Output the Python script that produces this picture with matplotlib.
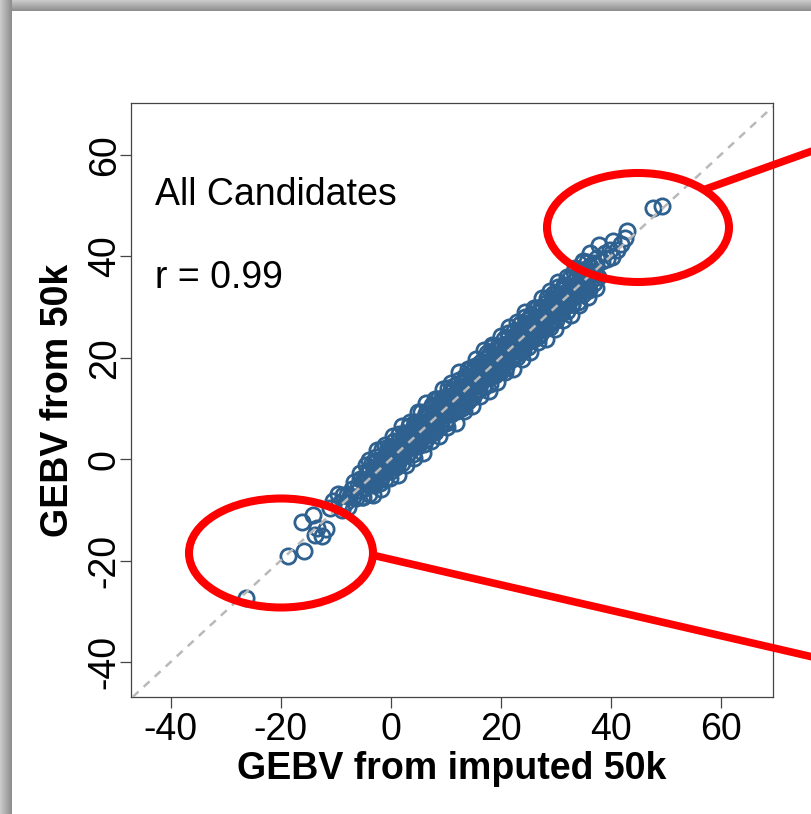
import matplotlib
matplotlib.use('Agg')
import matplotlib.pyplot as plt
import numpy as np
from matplotlib.patches import Ellipse

plt.rcParams['font.family'] = ['Liberation Sans', 'DejaVu Sans']
plt.rcParams['axes.unicode_minus'] = False

# ---------------- data ----------------
low_x = [-26.3, -18.6, -16.2, -15.7, -14.2, -13.7, -13.4, -12.4, -11.8, -11.0, -10.4, -9.6]
low_y = [-27.3, -19.2, -12.4, -18.2, -11.0, -15.0, -13.5, -15.2, -13.8, -9.6, -8.3, -6.8]

segA_x = [-9.3, -8.9, -8.6, -8.2, -7.9, -7.7, -7.4, -7.1, -6.8, -6.6, -6.3, -6.0, -5.8, -5.5,
          -5.2, -5.0, -4.7, -4.4, -4.2, -3.9, -3.6, -3.3]
segA_y = [-8.9, -10.0, -7.0, -8.5, -7.0, -9.5, -7.3, -5.9, -7.5, -4.5, -7.7, -5.4, -6.0, -4.0,
          -7.5, -4.2, -5.6, -4.1, -2.3, -5.1, -3.6, -3.8]

segB_x = [-3.1, -2.9, -2.8, -2.6, -2.4, -2.2, -2.1, -1.9, -1.7, -1.5, -1.4, -1.2, -1.0, -0.8,
          -0.7, -0.5, -0.3, -0.1, 0.0, 0.2, 0.4, 0.5, 0.7, 0.9, 1.0, 1.2, 1.4, 1.5, 1.7, 1.9,
          2.0, 2.2, 2.4, 2.5, 2.7, 2.9, 3.0, 3.2, 3.4, 3.5, 3.7, 3.9, 4.0, 4.2, 4.4, 4.5, 4.7, 4.9]
segB_y = [-2.0, -4.5, -0.4, -2.1, -3.2, -0.9, -4.1, -1.7, -1.3, -2.6, 0.2, -1.5, -0.1, -2.6,
          -0.6, 0.7, -1.0, 2.0, -1.4, 0.8, 0.2, 2.0, -1.6, 1.7, 0.1, 1.5, 3.3, 0.3, 1.7, 1.4,
          3.1, 0.6, 4.8, 3.0, 1.9, 4.2, 1.0, 3.4, 3.8, 2.4, 5.3, 3.6, 4.9, 2.4, 4.5, 5.7, 4.0, 7.0]

segC_x = [5.1, 5.3, 5.4, 5.6, 5.7, 5.9, 6.0, 6.2, 6.3, 6.5, 6.6, 6.8, 6.9, 7.1, 7.2, 7.4, 7.5,
          7.7, 7.8, 8.0, 8.1, 8.3, 8.4, 8.6, 8.7, 8.9, 9.0, 9.2, 9.3, 9.5, 9.6, 9.8, 9.9, 10.1,
          10.2, 10.4, 10.5, 10.7, 10.8, 11.0, 11.1, 11.3, 11.4, 11.6, 11.7, 11.9, 12.0, 12.2,
          12.3, 12.5, 12.6, 12.8, 12.9, 13.1, 13.2, 13.4, 13.5, 13.7, 13.8, 14.0, 14.1, 14.3,
          14.4, 14.6, 14.7, 14.9, 15.0, 15.2, 15.3, 15.5, 15.6, 15.8, 15.9, 16.1, 16.2, 16.4,
          16.5, 16.7, 16.8, 17.0, 17.1, 17.3, 17.4, 17.6, 17.7, 17.9, 18.0, 18.2, 18.3, 18.5,
          18.6, 18.8, 18.9, 19.1, 19.2, 19.4, 19.5, 19.7, 19.8, 20.0, 20.1, 20.3, 20.4, 20.6,
          20.7, 20.9, 21.0, 21.2, 21.3, 21.5, 21.6, 21.8, 21.9, 22.1, 22.2, 22.4, 22.5, 22.7,
          22.8, 23.0, 23.1, 23.3, 23.4, 23.6, 23.7, 23.9, 24.0, 24.2, 24.3, 24.5, 24.6, 24.8,
          24.9, 25.1, 25.2, 25.4, 25.5, 25.7, 25.8, 26.0, 26.1, 26.3, 26.4, 26.6, 26.7, 26.9,
          27.0, 27.2, 27.3, 27.5, 27.6, 27.8, 27.9, 28.1, 28.2, 28.4, 28.5, 28.7, 28.8, 29.0,
          29.1, 29.3, 29.4, 29.6, 29.7, 29.9]
segC_y = [4.5, 6.7, 3.5, 5.9, 6.6, 4.6, 8.2, 6.1, 7.0, 4.0, 7.6, 6.4, 8.7, 6.1, 7.4, 5.9, 10.1,
          6.9, 8.3, 9.2, 6.0, 8.4, 8.1,
          8.0, 10.1, 7.0, 9.3, 10.1, 8.0, 11.7, 9.5, 10.5, 7.4, 11.1, 9.8, 12.2, 9.5, 10.9, 9.3,
          13.6, 10.3, 11.8, 12.6, 9.5, 11.8, 11.6,
          11.4, 13.6, 10.4, 12.8, 13.5, 11.5, 15.1, 13.0, 13.9, 10.9, 14.5, 13.3, 15.6, 13.0,
          14.3, 12.8, 17.0, 13.8, 15.2, 16.1, 12.9, 15.3, 15.0,
          14.9, 17.0, 13.9, 16.2, 17.0, 14.9, 18.6, 16.4, 17.4, 14.3, 18.0, 16.7, 19.1, 16.4,
          17.8, 16.2, 20.5, 17.2, 18.7, 19.5, 16.4, 18.7, 18.5,
          18.3, 20.5, 17.3, 19.7, 20.4, 18.4, 22.0, 19.9, 20.8, 17.8, 21.4, 20.2, 22.5, 19.9,
          21.2, 19.7, 23.9, 20.7, 22.1, 23.0, 19.8, 22.2, 21.9,
          21.8, 23.9, 20.8, 23.1, 23.9, 21.8, 25.5, 23.3, 24.3, 21.2, 24.9, 23.6, 26.0, 23.3,
          24.7, 23.1, 27.4, 24.1, 25.6, 26.4, 23.3, 25.6, 25.4,
          25.2, 27.4, 24.2, 26.6, 27.3, 25.3, 28.9, 26.8, 27.7, 24.7, 28.3, 27.1, 29.4, 26.8,
          28.1, 26.6, 30.8, 27.6, 29.0, 29.9, 26.7, 29.1, 28.8,
          28.7, 30.8, 27.7, 30.0, 30.8]

segD_x = [30.1, 30.3, 30.5, 30.7, 30.9, 31.1, 31.3, 31.5, 31.7, 31.9, 32.1, 32.3, 32.5, 32.7,
          32.9, 33.1, 33.3, 33.5, 33.7, 33.9, 34.1, 34.3, 34.5, 34.7, 34.9, 35.1, 35.3, 35.5,
          35.7, 35.9, 36.2, 36.5, 36.8, 37.1, 37.4, 37.7]
segD_y = [30.5, 29.2, 32.1, 30.4, 31.8, 29.3, 31.4, 32.7, 31.0, 34.0, 30.7, 32.9, 32.3, 34.2,
          30.6, 33.9, 32.4, 33.8, 35.6, 32.7, 34.1, 33.8, 35.6, 33.1, 37.3, 35.6, 34.5, 36.8,
          33.7, 36.1, 36.6, 35.4, 38.4, 36.8, 38.3, 35.9]

mid_x = [-3.8, -3.4, -3.0, -2.6, -2.2, -1.8, -1.4, -1.0, -0.6, -0.2, 0.2, 0.6, 1.0, 1.4, 1.8,
         2.2, 2.6, 3.0, 3.4, 3.8, 4.2, 4.6, 5.0, 5.4, 5.8, 6.2, 6.6, 7.0, 7.4, 7.8, 8.2, 8.6,
         9.0, 9.4, 9.8, 10.2, 10.6, 11.0, 11.4, 11.8, 12.2, 12.6, 13.0, 13.4, 13.8, 14.2, 14.6,
         15.0, 15.4, 15.8, 16.2, 16.6, 17.0, 17.4, 17.8, 18.2, 18.6, 19.0, 19.4, 19.8, 20.2,
         20.6, 21.0, 21.4, 21.8, 22.2, 22.6, 23.0, 23.4, 23.8, 24.2, 24.6, 25.0, 25.4, 25.8,
         26.2, 26.6, 27.0, 27.4, 27.8, 28.2, 28.6, 29.0, 29.4, 29.8, 30.2, 30.6, 31.0, 31.4,
         31.8, 32.2, 32.6, 33.0, 33.4, 33.8, 34.2, 34.6, 35.0, 35.4, 35.8, 36.2, 36.6, 37.0]
mid_y = [-2.1, -4.6, -2.6, -0.3, -2.8, -3.7, -0.4, -1.0, -2.1, 1.8, 0.9, -0.3, 2.4, -0.7, 2.1,
         4.1, 2.2, 4.7, 2.2, 4.2, 6.5, 4.0, 3.1, 6.4, 5.8, 4.7, 8.6, 7.7, 6.5, 9.2, 6.1, 8.9,
         10.9, 9.0, 11.5, 9.0, 11.0, 13.3, 10.8, 9.9, 13.2, 12.6, 11.5, 15.4, 14.5, 13.3, 16.0,
         12.9, 15.7, 17.7, 15.8, 18.3, 15.8, 17.8, 20.1, 17.6, 16.7, 20.0, 19.4, 18.3, 22.2,
         21.3, 20.1, 22.8, 19.7, 22.5, 24.5, 22.6, 25.1, 22.6, 24.6, 26.9, 24.4, 23.5, 26.8,
         26.2, 25.1, 29.0, 28.1, 26.9, 29.6, 26.5, 29.3, 31.3, 29.4, 31.9, 29.4, 31.4, 33.7,
         31.2, 30.3, 33.6, 33.0, 31.9, 35.8, 34.9, 33.7, 36.4, 33.3, 36.1, 38.1, 36.2, 38.7]

edge_hi_x = [-5.6, -4.5, -3.4, -2.6, -1.5, -0.4, 0.6, 1.5, 2.6, 3.4, 4.5, 5.6, 6.4, 7.5, 8.6,
             9.4, 10.5, 11.6, 12.4, 13.5, 14.6, 15.4, 16.5, 17.6, 18.4, 19.5, 20.6, 21.4, 22.5,
             23.6, 24.4, 25.5, 26.6, 27.4, 28.5, 29.6, 30.4, 31.5, 32.6, 33.4, 34.5, 35.6]
edge_hi_y = [-2.8, -1.2, -0.8, 0.5, 2.0, 2.3, 3.6, 4.9, 5.1, 6.6, 7.4, 9.2, 9.1, 10.6, 11.9,
             12.0, 14.0, 14.5, 15.6, 16.3, 18.0, 18.4, 19.1, 20.9, 22.1, 22.3, 23.7, 24.8, 25.2,
             26.6, 28.0, 28.4, 29.8, 30.0, 31.8, 32.6, 33.9, 34.3, 35.7, 36.8, 37.2, 38.8]

edge_lo_x = [-5.0, -4.0, -3.0, -2.0, -1.0, 0.0, 1.0, 2.0, 3.0, 4.0, 5.0, 6.0, 7.0, 8.0, 9.0,
             10.0, 11.0, 12.0, 13.0, 14.0, 15.0, 16.0, 17.0, 18.0, 19.0, 20.0, 21.0, 22.0, 23.0,
             24.0, 25.0, 26.0, 27.0, 28.0, 29.0, 30.0, 31.0, 32.0, 33.0, 34.0, 35.0, 36.0, 37.0]
edge_lo_y = [-7.4, -6.9, -5.2, -4.7, -4.0, -2.3, -1.6, -0.8, 0.9, 1.1, 2.5, 2.9, 4.7, 5.3, 6.6,
             7.1, 8.8, 9.4, 10.0, 11.5, 12.2, 13.7, 14.3, 14.9, 16.6, 17.4, 18.1, 19.8, 20.2,
             21.5, 22.0, 23.6, 24.3, 25.7, 26.1, 27.4, 28.8, 29.2, 30.5, 31.0, 32.6, 33.3, 34.7]

outer_hi_x = [-4.0, -2.5, -1.0, 0.5, 2.0, 3.5, 5.0, 6.5, 8.0, 9.5, 11.0, 12.5, 14.0, 15.5,
              17.0, 18.5, 20.0, 21.5, 23.0, 24.5, 26.0, 27.5, 29.0, 30.5, 32.0, 33.5, 35.0]
outer_hi_y = [-0.1, 1.8, 2.7, 4.6, 6.5, 7.3, 9.2, 11.1, 11.9, 13.9, 15.0, 17.2, 17.8, 19.8,
              21.5, 22.4, 24.2, 26.1, 27.0, 28.9, 29.8, 31.8, 33.1, 35.0, 35.9, 37.7, 38.8]

outer_lo_x = [-3.2, -1.7, -0.2, 1.3, 2.8, 4.3, 5.8, 7.3, 8.8, 10.3, 11.8, 13.3, 14.8, 16.3,
              17.8, 19.3, 20.8, 22.3, 23.8, 25.3, 26.8, 28.3, 29.8, 31.3, 32.8, 34.3, 35.8, 37.3]
outer_lo_y = [-7.0, -5.9, -3.8, -3.1, -1.1, 0.2, 1.3, 3.6, 4.6, 6.3, 7.2, 9.5, 10.5, 12.4,
              13.4, 15.2, 17.1, 17.8, 19.8, 21.1, 23.0, 23.7, 25.7, 27.4, 28.5, 30.3, 32.0, 33.7]

high_x = [35.0, 36.3, 37.5, 37.8, 38.5, 38.9, 39.3, 39.8, 40.2, 40.4, 41.1, 41.8, 42.6, 42.9, 47.6, 49.4]
high_y = [39.1, 40.7, 39.6, 42.3, 39.0, 40.6, 39.4, 41.2, 39.9, 43.0, 41.3, 42.5, 43.6, 44.9, 49.5, 49.9]

gebv_imputed = (low_x + segA_x + segB_x + segC_x + segD_x + mid_x + edge_hi_x + edge_lo_x
                + outer_hi_x + outer_lo_x + high_x)
gebv_50k = (low_y + segA_y + segB_y + segC_y + segD_y + mid_y + edge_hi_y + edge_lo_y
            + outer_hi_y + outer_lo_y + high_y)

tick_values = [-40, -20, 0, 20, 40, 60]
panel_title = "All Candidates"
r_label = "r = 0.99"
x_label = "GEBV from imputed 50k"
y_label = "GEBV from 50k"

# ---------------- figure ----------------
W, H = 812, 814
fig = plt.figure(figsize=(W / 100, H / 100), dpi=100)
fig.patch.set_facecolor('white')

ax = fig.add_axes([131 / W, 1 - 697 / H, (773 - 131) / W, (697 - 103) / H])
ax.plot(gebv_imputed, gebv_50k, ls='none', marker='o', mfc='none',
        mec='#2f6190', ms=11, mew=2.0, zorder=2)
ax.axline((0, 0), slope=1, color='#b9b9b9', lw=1.8, ls=(0, (3.2, 2.8)), zorder=3)

ax.set_xlim(-47.2, 69.5)
ax.set_ylim(-46.9, 70.2)
ax.set_xticks(tick_values)
ax.set_yticks(tick_values)
for s in ax.spines.values():
    s.set_color('#444444')
    s.set_linewidth(0.9)
ax.tick_params(direction='out', length=8, width=0.9, color='#444444',
               labelsize=27, labelcolor='black')
ax.tick_params(axis='x', pad=3)
ax.tick_params(axis='y', pad=-2)
for lab in ax.get_yticklabels():
    lab.set_rotation(90)
    lab.set_va('center')

ax.text(0.037, 0.828, panel_title, transform=ax.transAxes, fontsize=27,
        ha='left', va='baseline')
ax.text(0.037, 0.689, r_label, transform=ax.transAxes, fontsize=27,
        ha='left', va='baseline')

ax.set_xlabel(x_label, fontsize=27, fontweight='bold', labelpad=2)
ax.set_ylabel(y_label, fontsize=27, fontweight='bold', labelpad=8)

# ---------------- overlay: slide shadow and red callouts ----------------
ov = fig.add_axes([0, 0, 1, 1], zorder=10)
ov.set_xlim(0, W)
ov.set_ylim(H, 0)
ov.axis('off')
ov.patch.set_alpha(0)

top_h, left_w = 11, 12
grad_top = np.linspace(0.80, 0.55, 32).reshape(-1, 1)
ov.imshow(np.dstack([grad_top] * 3), extent=(0, W, top_h, 0), aspect='auto',
          interpolation='bilinear', zorder=1)
grad_left = np.linspace(0.80, 0.55, 32).reshape(1, -1)
ov.imshow(np.dstack([grad_left] * 3), extent=(0, left_w, H, 0), aspect='auto',
          interpolation='bilinear', zorder=1)
ov.set_xlim(0, W)
ov.set_ylim(H, 0)

red = '#ff0000'
ov.add_patch(Ellipse((638, 227.5), 182, 109, fill=False, ec=red, lw=5.8, zorder=5))
ov.add_patch(Ellipse((281, 553), 184, 109, fill=False, ec=red, lw=5.8, zorder=5))
ov.plot([703, 830], [190, 144.6], color=red, lw=5.5, solid_capstyle='butt', zorder=5)
ov.plot([372, 830], [555, 661], color=red, lw=5.5, solid_capstyle='butt', zorder=5)

fig.savefig('out.png', dpi=100, facecolor='white')
